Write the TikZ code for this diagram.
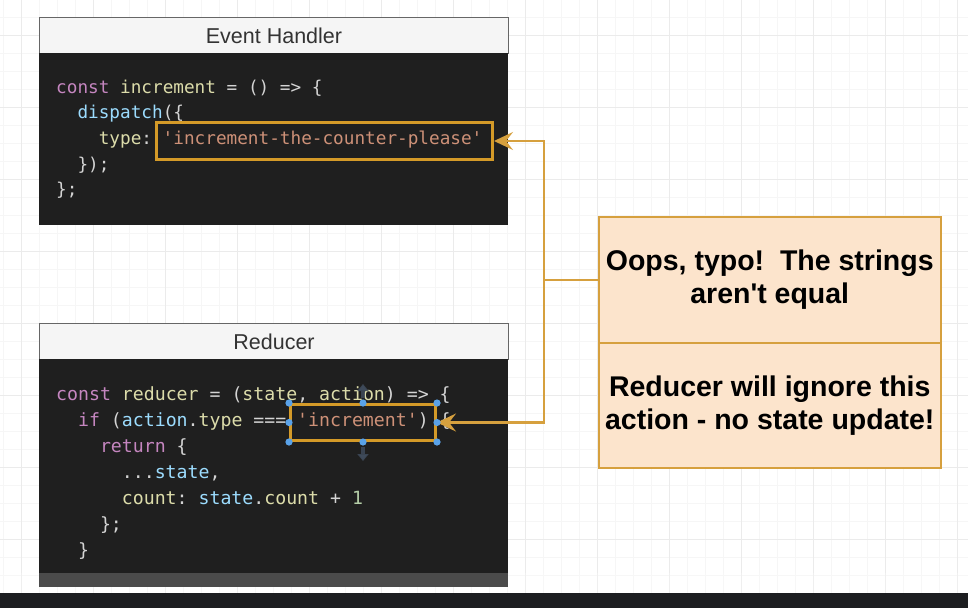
\documentclass[tikz,border=0pt]{standalone}
\usepackage{fontspec}
\setmainfont{Liberation Sans}
\newfontfamily\notefont{Liberation Sans}
\newfontfamily\codefont{DejaVu Sans Mono}
\usetikzlibrary{arrows.meta}
\definecolor{gridminor}{HTML}{F6F6F6}
\definecolor{gridmajor}{HTML}{EBEBEB}
\definecolor{hdrfill}{HTML}{F5F5F5}
\definecolor{hdrline}{HTML}{666666}
\definecolor{hdrtext}{HTML}{333333}
\definecolor{codebg}{HTML}{1F1F1F}
\definecolor{orangeline}{HTML}{D6A03E}
\definecolor{hlline}{HTML}{D49A28}
\definecolor{notefill}{HTML}{FCE4CC}
\definecolor{handleblue}{HTML}{5AA2E8}
\definecolor{hovergray}{HTML}{3E4A5A}
\definecolor{darkbar}{HTML}{1D1E21}
\definecolor{ckw}{HTML}{C586C0}
\definecolor{cyl}{HTML}{DCDCAA}
\definecolor{cpu}{HTML}{D4D4D4}
\definecolor{cbl}{HTML}{9CDCFE}
\definecolor{cst}{HTML}{CE9178}
\definecolor{cnu}{HTML}{B5CEA8}
\newcommand\CK[1]{\textcolor{ckw}{#1}}
\newcommand\CY[1]{\textcolor{cyl}{#1}}
\newcommand\CP[1]{\textcolor{cpu}{#1}}
\newcommand\CB[1]{\textcolor{cbl}{#1}}
\newcommand\CS[1]{\textcolor{cst}{#1}}
\newcommand\CN[1]{\textcolor{cnu}{#1}}
\frenchspacing
\begin{document}
\begin{tikzpicture}[x=1pt,y=-1pt,
  minorgrid/.style={draw=gridminor,line width=0.8pt},
  majorgrid/.style={draw=gridmajor,line width=0.8pt},
  hdr/.style={draw=hdrline,fill=hdrfill,line width=1pt,anchor=north west,
    minimum width=469pt,minimum height=36pt,inner sep=0pt,text=hdrtext,
    font=\fontsize{21.5}{24}\selectfont},
  codebox/.style={fill=codebg,draw=codebg,anchor=north west,minimum width=468pt,inner sep=0pt},
  codeA/.style={anchor=base west,inner sep=0pt,font=\codefont\frenchspacing\fontsize{17.7}{20}\selectfont},
  codeB/.style={anchor=base west,inner sep=0pt,font=\codefont\frenchspacing\fontsize{18.2}{20}\selectfont},
  hl/.style={draw=hlline,line width=3pt,anchor=north west,inner sep=0pt},
  note/.style={draw=orangeline,fill=notefill,line width=1.5pt,anchor=north west,
    minimum width=342pt,inner sep=0pt,align=center,
    font=\notefont\bfseries\fontsize{28.5}{33}\selectfont},
  conn/.style={draw=orangeline,line width=2.2pt,
    -{Stealth[length=19pt,width=18pt,inset=7pt]}},
  joinline/.style={draw=orangeline,line width=2.2pt},
  handle/.style={fill=handleblue},
  hover/.style={draw=hovergray,draw opacity=0.85,line width=4pt,-{Triangle[length=7pt,width=11pt]}}
]
\useasboundingbox (0,0) rectangle (968,608);
\fill[white] (0,0) rectangle (968,608);
% grid
\foreach \x in {3,21,...,966} \draw[minorgrid] (\x,0) -- (\x,593);
\foreach \y in {-1,17,...,593} \draw[minorgrid] (0,\y) -- (968,\y);
\foreach \x in {21,93,...,966} \draw[majorgrid] (\x,0) -- (\x,593);
\foreach \y in {35,107,...,593} \draw[majorgrid] (0,\y) -- (968,\y);

% Event handler
\node[hdr] (h1) at (39,17) {Event Handler};
\node[codebox,minimum height=171pt] (c1) at (39,53) {};
\node[codeA] (e1) at (56,93) {\CK{const} \CY{increment} \CP{= () => \{}};
\node[codeA] (e2) at (77.3,118.7) {\CB{dispatch}\CP{(\{}};
\node[codeA] (e3) at (98.6,144.4) {\CY{type}\CP{:} \CS{'increment-the-counter-please'}};
\node[codeA] (e4) at (77.3,170.1) {\CP{\});}};
\node[codeA] (e5) at (56,195.8) {\CP{\};}};
\node[hl,minimum width=336pt,minimum height=37pt] (s1) at (155,121) {};

% Reducer
\node[hdr] (h2) at (39,323) {Reducer};
\node[codebox,minimum height=227pt] (c2) at (39,359) {};
\node[codeB] (r1) at (56,400) {\CK{const} \CY{reducer} \CP{= (}\CY{state}\CP{,} \CY{action}\CP{) => \{}};
\node[codeB] (r2) at (77.9,426) {\CK{if} \CP{(}\CB{action}\CP{.}\CY{type} \CP{===} \CS{'increment'}\CP{) \{}};
\node[codeB] (r3) at (99.8,452) {\CK{return} \CP{\{}};
\node[codeB] (r4) at (121.7,478) {\CP{...}\CB{state}\CP{,}};
\node[codeB] (r5) at (121.7,504) {\CY{count}\CP{:} \CB{state}\CP{.}\CY{count} \CP{+} \CN{1}};
\node[codeB] (r6) at (99.8,530) {\CP{\};}};
\node[codeB] (r7) at (77.9,556) {\CP{\}}};
\node[hl,minimum width=145pt,minimum height=36pt] (s2) at (289,403) {};

% Note
\node[note,minimum height=126pt] (n1) at (598,216) {Oops, typo!\ \ The strings\\aren't equal};
\node[note,minimum height=125pt] (n2) at (598,342) {Reducer will ignore this\\action - no state update!};

% connectors
\coordinate (j) at (544,279);
\draw[joinline] (n1.west) -- (n1.west -| j);
\draw[conn] (j) |- (s1.east);
\draw[conn] (j) |- (s2.east);

% selection handles
\draw[hover] ([yshift=5pt]s2.north) -- ++(0,-14);
\draw[hover] ([yshift=-5pt]s2.south) -- ++(0,14);
\foreach \a in {north west,north,north east,west,east,south west,south,south east}
  \fill[handle] (s2.\a) circle (3.6pt);

% tab bar and bottom bar
\fill[white,opacity=0.2] (0,573) rectangle (968,593);
\fill[darkbar] (0,593) rectangle (968,608);
\end{tikzpicture}
\end{document}
